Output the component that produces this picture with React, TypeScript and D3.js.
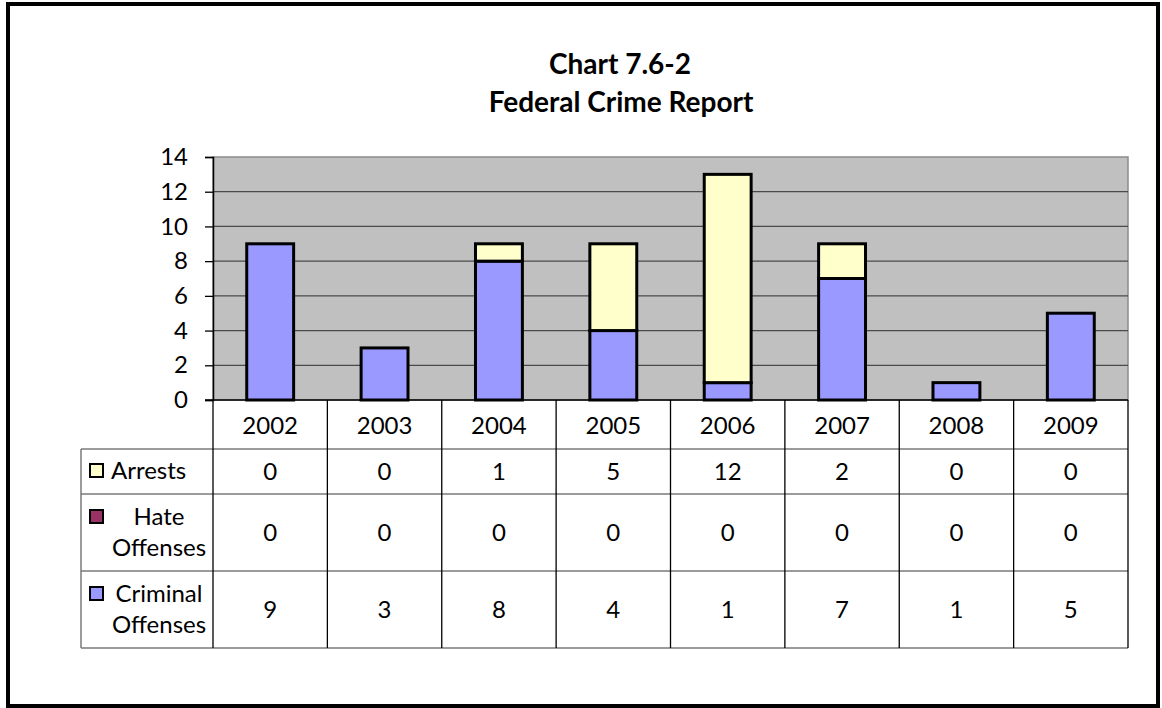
import { useEffect, useRef } from 'react';
import * as d3 from 'd3';

const years = ['2002', '2003', '2004', '2005', '2006', '2007', '2008', '2009'];
const arrests = [0, 0, 1, 5, 12, 2, 0, 0];
const hateOffenses = [0, 0, 0, 0, 0, 0, 0, 0];
const criminalOffenses = [9, 3, 8, 4, 1, 7, 1, 5];
const yTicks = [0, 2, 4, 6, 8, 10, 12, 14];

const series = [
  { key: 'criminal', label: ['Criminal', 'Offenses'], values: criminalOffenses, color: '#9999FF' },
  { key: 'hate', label: ['Hate', 'Offenses'], values: hateOffenses, color: '#993366' },
  { key: 'arrests', label: ['Arrests'], values: arrests, color: '#FFFFCC' },
];

const FONT = 'Lato, "Open Sans", sans-serif';
const FS = 24;

export default function App() {
  const svgRef = useRef<SVGSVGElement>(null);

  useEffect(() => {
    document.body.style.margin = '0';
    if (!svgRef.current) return;
    const svg = d3.select(svgRef.current);
    svg.selectAll('*').remove();

    const plot = { left: 213, right: 1128, top: 157, bottom: 400 };
    const tableLeft = 81;
    // table rows (top edges): header, arrests, hate, criminal, end
    const rowY = { header: 400, arrests: 449, hate: 494, criminal: 571, end: 648 };

    // outer frame
    svg.append('rect')
      .attr('x', 8).attr('y', 4)
      .attr('width', 1150).attr('height', 702)
      .attr('fill', 'white')
      .attr('stroke', 'black')
      .attr('stroke-width', 4);

    // title
    const title = svg.append('text')
      .attr('text-anchor', 'middle')
      .attr('font-family', FONT)
      .attr('font-weight', 'bold')
      .attr('font-size', 28);
    title.append('tspan').attr('x', 620).attr('y', 74).text('Chart 7.6-2');
    title.append('tspan').attr('x', 621).attr('y', 112).text('Federal Crime Report');

    const x = d3.scaleBand<string>()
      .domain(years)
      .range([plot.left, plot.right])
      .paddingInner(0)
      .paddingOuter(0);

    const y = d3.scaleLinear().domain([0, 14]).range([plot.bottom, plot.top]);

    // plot background
    svg.append('rect')
      .attr('x', plot.left).attr('y', plot.top)
      .attr('width', plot.right - plot.left)
      .attr('height', plot.bottom - plot.top)
      .attr('fill', '#C0C0C0')
      .attr('stroke', '#8c8c8c')
      .attr('stroke-width', 1.5);

    // gridlines
    svg.append('g')
      .selectAll('line')
      .data(yTicks.filter((t) => t > 0 && t < 14))
      .join('line')
      .attr('x1', plot.left).attr('x2', plot.right)
      .attr('y1', (d) => y(d)).attr('y2', (d) => y(d))
      .attr('stroke', '#4a4a4a')
      .attr('stroke-width', 1.3);

    // y axis
    const yAxis = svg.append('g')
      .attr('transform', `translate(${plot.left},0)`)
      .call(d3.axisLeft(y).tickValues(yTicks).tickSize(8).tickPadding(17));
    yAxis.select('.domain').attr('stroke', 'black').attr('stroke-width', 1.5);
    yAxis.selectAll('.tick line').attr('stroke', 'black').attr('stroke-width', 1.3);
    yAxis.selectAll('.tick text')
      .attr('font-family', FONT)
      .attr('font-size', FS)
      .attr('fill', 'black');

    // stacked bars
    const rows = years.map((yr, i) => ({
      year: yr,
      criminal: criminalOffenses[i],
      hate: hateOffenses[i],
      arrests: arrests[i],
    }));
    const stack = d3.stack<any>().keys(series.map((s) => s.key));
    const stacked = stack(rows);
    const barW = x.bandwidth() * 0.41;

    stacked.forEach((layer, li) => {
      svg.append('g')
        .selectAll('rect')
        .data(layer.filter((d) => d[1] - d[0] > 0))
        .join('rect')
        .attr('x', (d) => (x(d.data.year) as number) + (x.bandwidth() - barW) / 2)
        .attr('y', (d) => y(d[1]))
        .attr('width', barW)
        .attr('height', (d) => y(d[0]) - y(d[1]))
        .attr('fill', series[li].color)
        .attr('stroke', 'black')
        .attr('stroke-width', 3);
    });

    // x axis line
    svg.append('line')
      .attr('x1', plot.left - 8).attr('x2', plot.right)
      .attr('y1', plot.bottom).attr('y2', plot.bottom)
      .attr('stroke', 'black').attr('stroke-width', 1.5);

    // data table
    const table = svg.append('g');
    const hLines = [rowY.arrests, rowY.hate, rowY.criminal, rowY.end];
    table.selectAll('line.h')
      .data(hLines)
      .join('line')
      .attr('class', 'h')
      .attr('x1', tableLeft).attr('x2', plot.right)
      .attr('y1', (d) => d).attr('y2', (d) => d)
      .attr('stroke', '#7a7a7a')
      .attr('stroke-width', 1.5);

    const bounds = years.map((yr) => x(yr) as number).concat([plot.right]);
    table.selectAll('line.v')
      .data(bounds)
      .join('line')
      .attr('class', 'v')
      .attr('x1', (d) => d).attr('x2', (d) => d)
      .attr('y1', rowY.header).attr('y2', rowY.end)
      .attr('stroke', 'black')
      .attr('stroke-width', 1.3);

    table.append('line')
      .attr('x1', tableLeft).attr('x2', tableLeft)
      .attr('y1', rowY.arrests).attr('y2', rowY.end)
      .attr('stroke', '#7a7a7a')
      .attr('stroke-width', 1.5);

    const cx = (yr: string) => (x(yr) as number) + x.bandwidth() / 2;

    // year labels
    table.selectAll('text.year')
      .data(years)
      .join('text')
      .attr('class', 'year')
      .attr('x', (d) => cx(d))
      .attr('y', (rowY.header + rowY.arrests) / 2 + 1)
      .attr('dy', '0.36em')
      .attr('text-anchor', 'middle')
      .attr('font-family', FONT)
      .attr('font-size', FS)
      .text((d) => d);

    const rowBands: Record<string, [number, number]> = {
      arrests: [rowY.arrests, rowY.hate],
      hate: [rowY.hate, rowY.criminal],
      criminal: [rowY.criminal, rowY.end],
    };

    series.forEach((s) => {
      const [r0, r1] = rowBands[s.key];
      const mid = (r0 + r1) / 2;
      table.append('g')
        .selectAll('text')
        .data(s.values)
        .join('text')
        .attr('x', (_, i) => cx(years[i]))
        .attr('y', mid)
        .attr('dy', '0.36em')
        .attr('text-anchor', 'middle')
        .attr('font-family', FONT)
        .attr('font-size', FS)
        .text((d) => String(d));

      // legend key + label
      const firstLineY = s.label.length > 1 ? mid - 16 : mid - 1;
      table.append('rect')
        .attr('x', 90).attr('y', firstLineY - 6.5)
        .attr('width', 13).attr('height', 13)
        .attr('fill', s.color)
        .attr('stroke', 'black')
        .attr('stroke-width', 2);

      if (s.label.length === 1) {
        table.append('text')
          .attr('x', 111).attr('y', firstLineY)
          .attr('dy', '0.36em')
          .attr('font-family', FONT)
          .attr('font-size', FS)
          .text(s.label[0]);
      } else {
        s.label.forEach((ln, li) => {
          table.append('text')
            .attr('x', 159).attr('y', firstLineY + li * 31)
            .attr('dy', '0.36em')
            .attr('text-anchor', 'middle')
            .attr('font-family', FONT)
            .attr('font-size', FS)
            .text(ln);
        });
      }
    });
  }, []);

  return (
    <div style={{ width: 1162, height: 708 }}>
      <svg ref={svgRef} width={1162} height={708} style={{ display: 'block' }} />
    </div>
  );
}
